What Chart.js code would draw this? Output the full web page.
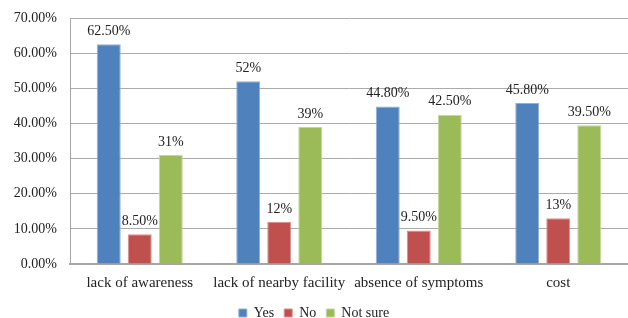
<!DOCTYPE html>
<html>
<head>
<meta charset="utf-8">
<script src="https://cdn.jsdelivr.net/npm/chart.js@4"></script>
<style>
  html, body { margin: 0; padding: 0; background: #fff; }
  #wrap { width: 628px; height: 318px; }
</style>
</head>
<body>
<div id="wrap"><canvas id="chart" width="628" height="318"></canvas></div>
<script>
// カテゴリと系列データ
const categories = ["lack of awareness", "lack of nearby facility", "absence of symptoms", "cost"];
const yesValues = [62.5, 52, 44.8, 45.8];
const noValues = [8.5, 12, 9.5, 13];
const notSureValues = [31, 39, 42.5, 39.5];
const yesLabels = ["62.50%", "52%", "44.80%", "45.80%"];
const noLabels = ["8.50%", "12%", "9.50%", "13%"];
const notSureLabels = ["31%", "39%", "42.50%", "39.50%"];

const serif = "'Liberation Serif', 'Times New Roman', serif";

// バー上に値ラベルを描く
const valueLabels = {
    id: 'valueLabels',
    afterDatasetsDraw(chart) {
        const ctx = chart.ctx;
        ctx.save();
        ctx.font = "14px " + serif;
        ctx.fillStyle = "#222";
        ctx.textAlign = "center";
        ctx.textBaseline = "bottom";
        chart.data.datasets.forEach((ds, i) => {
            const meta = chart.getDatasetMeta(i);
            meta.data.forEach((bar, j) => {
                ctx.fillText(ds.valueText[j], bar.x, bar.y - 6);
            });
        });
        ctx.restore();
    }
};

const ctx = document.getElementById('chart').getContext('2d');
new Chart(ctx, {
    type: 'bar',
    data: {
        labels: categories,
        datasets: [
            { label: "Yes", data: yesValues, valueText: yesLabels, backgroundColor: "#4F81BD", borderColor: "#8EB0DA", borderWidth: 1 },
            { label: "No", data: noValues, valueText: noLabels, backgroundColor: "#C0504D", borderColor: "#DA9290", borderWidth: 1 },
            { label: "Not sure", data: notSureValues, valueText: notSureLabels, backgroundColor: "#9BBB59", borderColor: "#C3D79E", borderWidth: 1 }
        ]
    },
    options: {
        responsive: false,
        animation: false,
        devicePixelRatio: 1,
        layout: { padding: { top: 18, right: 0, left: 0, bottom: -12 } },
        datasets: {
            bar: { categoryPercentage: 0.667, barPercentage: 0.774 }
        },
        plugins: {
            legend: {
                position: 'bottom',
                labels: {
                    boxWidth: 8,
                    boxHeight: 8,
                    padding: 10,
                    color: "#222",
                    font: { family: serif, size: 14 }
                }
            },
            tooltip: { enabled: false }
        },
        scales: {
            x: {
                grid: { display: false },
                border: { color: "#A6A6A6", width: 2 },
                ticks: { color: "#222", font: { family: serif, size: 15 }, padding: 2, maxRotation: 0 },
                afterFit(scale) { scale.height = 32; }
            },
            y: {
                min: 0,
                max: 70,
                grid: { color: "#ABABAB", drawTicks: false },
                border: { color: "#A6A6A6", width: 1 },
                ticks: {
                    stepSize: 10,
                    color: "#222",
                    padding: 13,
                    font: { family: serif, size: 14 },
                    callback: v => v.toFixed(2) + "%"
                },
                afterFit(scale) {
                    scale.width = 70;
                    scale.paddingTop = 0;
                    scale.paddingBottom = 0;
                }
            }
        }
    },
    plugins: [valueLabels]
});
</script>
</body>
</html>
